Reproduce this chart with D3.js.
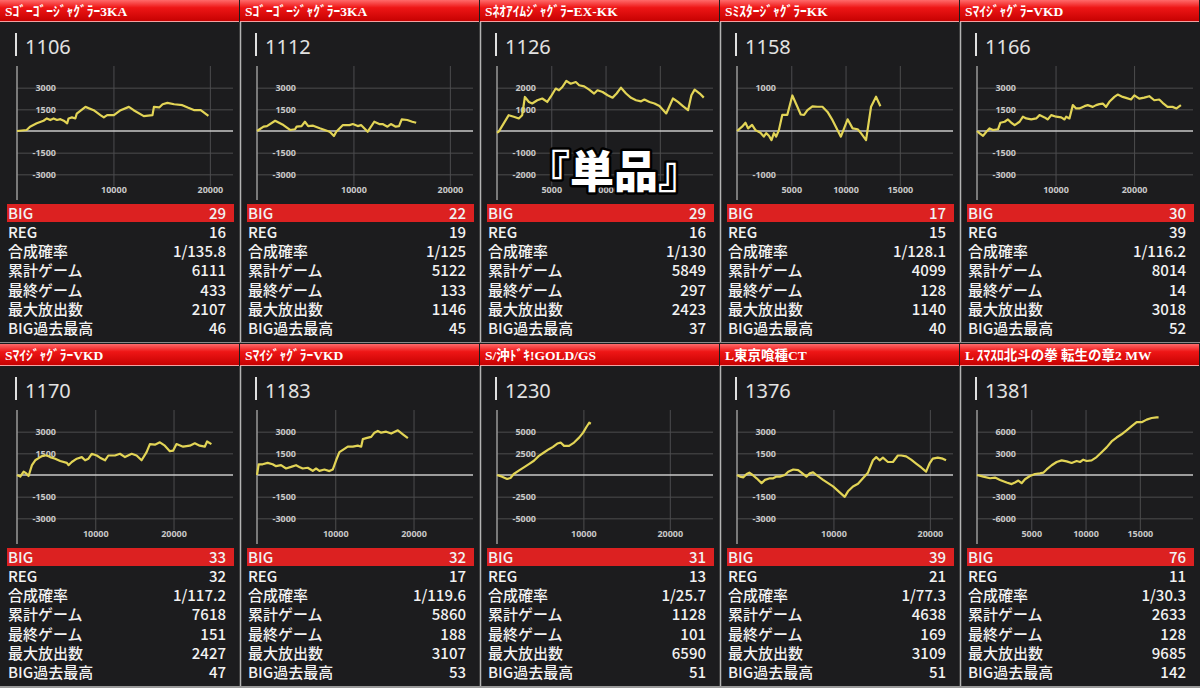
<!DOCTYPE html>
<html>
<head>
<meta charset="utf-8">
<script src="https://cdnjs.cloudflare.com/ajax/libs/d3/7.8.5/d3.min.js"></script>
<style>
html, body { margin: 0; padding: 0; background: #1c1c1e; }
svg { display: block; }
</style>
</head>
<body>
<svg id="chart" width="1200" height="688"></svg>
<script>
// machine numbers and names
var units = [1106, 1112, 1126, 1158, 1166, 1170, 1183, 1230, 1376, 1381];
var titles = [
    "Sｺﾞｰｺﾞｰｼﾞｬｸﾞﾗｰ3KA", "Sｺﾞｰｺﾞｰｼﾞｬｸﾞﾗｰ3KA", "SﾈｵｱｲﾑｼﾞｬｸﾞﾗｰEX-KK",
    "SﾐｽﾀｰｼﾞｬｸﾞﾗｰKK", "SﾏｲｼﾞｬｸﾞﾗｰVKD", "SﾏｲｼﾞｬｸﾞﾗｰVKD", "SﾏｲｼﾞｬｸﾞﾗｰVKD",
    "S/沖ﾄﾞｷ!GOLD/GS", "L東京喰種CT", "L ｽﾏｽﾛ北斗の拳 転生の章2 MW"
];

// stats table
var statLabels = ["BIG", "REG", "合成確率", "累計ゲーム", "最終ゲーム", "最大放出数", "BIG過去最高"];
var bigCounts  = [29, 22, 29, 17, 30, 33, 32, 31, 39, 76];
var regCounts  = [16, 19, 16, 15, 39, 32, 17, 13, 21, 11];
var probs      = ["1/135.8", "1/125", "1/130", "1/128.1", "1/116.2", "1/117.2", "1/119.6", "1/25.7", "1/77.3", "1/30.3"];
var totalGames = [6111, 5122, 5849, 4099, 8014, 7618, 5860, 1128, 4638, 2633];
var lastGames  = [433, 133, 297, 128, 14, 151, 188, 101, 169, 128];
var maxOut     = [2107, 1146, 2423, 1140, 3018, 2427, 3107, 6590, 3109, 9685];
var bigRecord  = [46, 45, 37, 40, 52, 47, 53, 51, 51, 142];

// axes
var yTicks = [
    [3000, 1500, -1500, -3000], [3000, 1500, -1500, -3000], [2000, 1000, -1000, -2000],
    [1000, 500, -500, -1000], [3000, 1500, -1500, -3000], [3000, 1500, -1500, -3000],
    [3000, 1500, -1500, -3000], [5000, 2500, -2500, -5000], [3000, 1500, -1500, -3000],
    [6000, 3000, -3000, -6000]
];
var yLabelTicks = [
    [3000, 1500, -1500, -3000], [3000, 1500, -1500, -3000], [2000, 1000, -1000, -2000],
    [1000, -1000], [3000, 1500, -1500, -3000], [3000, 1500, -1500, -3000],
    [3000, 1500, -1500, -3000], [5000, 2500, -2500, -5000], [3000, 1500, -1500, -3000],
    [6000, 3000, -3000, -6000]
];
var xTicks = [
    [10000, 20000], [10000, 20000], [5000, 10000, 15000], [5000, 10000, 15000], [10000, 20000],
    [10000, 20000], [10000, 20000], [10000, 20000], [10000, 20000], [5000, 10000, 15000]
];
var xMax = [22400, 22400, 19900, 19900, 27500, 27600, 27600, 25000, 22400, 19900];

// slump lines [games, coins]
var line1106 = [[0,0],[1000,70],[1350,300],[2050,530],[2750,710],[3100,870],[3450,760],[3800,870],[4150,760],[4500,820],[4850,710],[5200,530],[5350,870],[5700,940],[6050,870],[6200,1210],[7100,1670],[7950,1440],[8650,1100],[9000,940],[9350,1100],[10050,1100],[10750,1440],[11600,1670],[12100,1440],[13150,1030],[14050,1100],[14200,1670],[14750,1630],[15100,1850],[15600,1950],[16300,1850],[17150,1790],[17700,1630],[18400,1440],[19050,1440],[19850,1050]];
var line1112 = [[0,0],[680,300],[1030,340],[1880,710],[2740,410],[3430,70],[3940,120],[4110,300],[4620,340],[4970,640],[5310,340],[5820,370],[6510,190],[7540,-50],[7980,-350],[8220,-50],[8910,410],[9590,410],[9940,480],[10450,340],[10790,410],[11480,-50],[12160,640],[12680,480],[13020,480],[13530,300],[13880,480],[14390,300],[14730,340],[15010,800],[15590,760],[16100,640],[16510,570]];
var line1126 = [[0,-80],[160,-30],[620,350],[1080,730],[1550,660],[2010,580],[2320,730],[2570,1570],[2940,1340],[3240,1270],[3710,1420],[4170,1500],[4630,1340],[4940,1570],[5410,1960],[5710,1880],[6020,2030],[6390,2310],[6790,2180],[7260,2260],[7570,2110],[8030,2060],[8490,1910],[8950,1730],[9260,1880],[9730,1800],[10190,1650],[10650,1540],[11020,1730],[11420,2000],[11890,1730],[12350,1530],[12810,1420],[13280,1370],[13580,1450],[14050,1340],[14510,1270],[14970,1150],[15590,810],[16210,1500],[16670,1340],[17130,1150],[17600,960],[17910,1650],[18210,1910],[18680,1730],[19050,1540]];
var line1158 = [[0,0],[470,100],[780,190],[1020,60],[1390,140],[1700,20],[2160,-40],[2470,-130],[2690,-50],[2940,-110],[3180,-210],[3400,-50],[3610,-130],[3860,20],[4170,370],[4630,370],[5100,820],[5560,560],[5870,380],[6180,370],[6490,480],[6950,570],[7410,560],[7870,560],[8340,440],[8800,250],[9570,-130],[10190,270],[10650,60],[11120,40],[11420,-50],[11890,-210],[12350,560],[12810,790],[13210,570]];
var line1166 = [[0,0],[340,-160],[770,-340],[1190,-50],[1610,180],[2040,70],[2670,120],[2970,570],[3520,640],[3940,800],[4370,570],[4790,410],[5420,640],[5850,990],[6270,870],[6910,800],[7540,870],[7960,1100],[8600,940],[9020,800],[9450,1100],[10080,990],[10720,940],[11140,800],[11350,990],[11770,870],[12200,1790],[12620,1560],[13040,1560],[13680,1720],[14100,1790],[14740,1670],[15160,1790],[15580,1860],[16010,1900],[16430,1670],[16850,2020],[17490,2360],[17910,2520],[18550,2360],[18970,2290],[19610,2180],[20030,2470],[20660,2240],[21300,2310],[21930,2410],[22570,2130],[23200,2180],[23630,1950],[24260,1670],[24900,1670],[25400,1560],[25960,1790]];
var line1170 = [[0,0],[420,-110],[850,230],[1190,110],[1480,-70],[1910,680],[2330,1020],[2970,1240],[3390,1350],[3820,1350],[4240,1240],[4880,1130],[5520,970],[6370,840],[6580,680],[7000,900],[7640,1130],[8280,1240],[8700,1020],[9130,1130],[9550,1470],[10190,1350],[10610,1200],[11250,1020],[11670,1350],[12520,1350],[13160,1470],[13800,1240],[14650,1470],[15280,1350],[15920,1020],[16560,1580],[16980,2140],[17620,2100],[18260,2260],[18890,2030],[19530,1650],[19960,1690],[20380,2140],[21230,1960],[22080,2030],[22720,2190],[23350,2030],[23990,1960],[24290,2320],[24840,2140]];
var line1183 = [[0,0],[210,740],[720,740],[1360,840],[2000,740],[2430,610],[3070,680],[3710,450],[4350,560],[4990,680],[5410,560],[5840,450],[6480,500],[7120,290],[7550,450],[7970,290],[8610,380],[9250,270],[9680,380],[10110,1020],[10530,1580],[11170,1810],[11600,1960],[12240,1960],[12880,2030],[13310,1960],[13520,2480],[13950,2550],[14590,2640],[15010,2930],[15440,3050],[15870,2930],[16510,3000],[17150,2870],[18000,3090],[18640,2820],[19280,2550]];
var line1230 = [[0,0],[590,-190],[1170,-460],[1560,-340],[1940,120],[2520,500],[3110,880],[3690,1260],[4270,1640],[4850,2210],[5430,2600],[6010,2980],[6480,3250],[6980,3630],[7370,3740],[7760,3360],[8340,3360],[8920,3740],[9500,4310],[9970,4890],[10350,5540],[10670,6030],[10860,5920]];
var line1376 = [[0,0],[310,-110],[660,-160],[1000,70],[1280,160],[1620,0],[2030,-230],[2550,-560],[2900,-340],[3410,-230],[3760,-230],[4100,-110],[4450,-110],[4960,0],[5310,230],[5830,380],[6340,340],[6690,160],[7200,-110],[7550,110],[7890,180],[8240,0],[8930,-340],[9960,-790],[10650,-1200],[11170,-1510],[11510,-1130],[12030,-790],[12550,-610],[13060,-230],[13580,160],[14100,1020],[14440,1240],[14790,1020],[15130,1200],[15650,900],[16170,900],[16680,1350],[17030,1350],[17540,1290],[18060,1060],[18580,790],[19100,520],[19610,230],[19960,790],[20300,1130],[20820,1200],[21340,1130],[21680,1020]];
var line1381 = [[0,0],[580,-230],[1200,-450],[1660,-360],[2120,-680],[2730,-1040],[3190,-1260],[3500,-1040],[3810,-770],[4110,-1130],[4420,-590],[4880,-140],[5340,140],[5800,230],[6110,320],[6420,770],[6880,1350],[7340,1800],[7800,2030],[8260,1890],[8720,1670],[9180,1940],[9490,1800],[9790,2120],[10100,1940],[10560,2030],[11020,2480],[11480,3160],[11940,3830],[12400,4650],[12860,5190],[13320,5640],[13780,6180],[14250,6770],[14710,7310],[15170,7310],[15630,7670],[16090,7890],[16550,7980],[16730,7980]];
var series = [line1106, line1112, line1126, line1158, line1166, line1170, line1183, line1230, line1376, line1381];

var W = 240, rowH = 344;
var svg = d3.select("#chart");

var grad = svg.append("defs").append("linearGradient")
    .attr("id", "hdr").attr("x1", 0).attr("y1", 0).attr("x2", 0).attr("y2", 1);
grad.append("stop").attr("offset", "0%").attr("stop-color", "#ff6a6a");
grad.append("stop").attr("offset", "35%").attr("stop-color", "#ee1616");
grad.append("stop").attr("offset", "100%").attr("stop-color", "#c40000");

svg.append("rect").attr("width", 1200).attr("height", 688).attr("fill", "#1c1c1e");

units.forEach(function(u, i) {
    var col = i % 5, row = Math.floor(i / 5);
    var g = svg.append("g").attr("transform", "translate(" + (col * W) + "," + (row * rowH) + ")");

    // header
    g.append("rect").attr("x", 0).attr("y", 0).attr("width", W - 1).attr("height", 22).attr("fill", "url(#hdr)");
    g.append("rect").attr("x", 0).attr("y", 21).attr("width", W - 1).attr("height", 1).attr("fill", "#f3a0a0");
    g.append("text").attr("x", 5).attr("y", 16)
        .attr("fill", "#fff")
        .attr("font-size", "13.5")
        .attr("font-weight", "bold")
        .attr("font-family", "'Liberation Serif', 'DejaVu Serif', 'Noto Sans CJK JP', serif")
        .text(titles[i]);

    // machine number
    g.append("rect").attr("x", 15).attr("y", 33).attr("width", 2).attr("height", 23).attr("fill", "#e0e0e0");
    g.append("text").attr("x", 25).attr("y", 54)
        .attr("fill", "#e2e2e2")
        .attr("font-size", "20")
        .attr("font-family", "'Noto Sans', sans-serif")
        .text(u);

    // chart
    var x = d3.scaleLinear().domain([0, xMax[i]]).range([17, 233]);
    var yM = d3.max(yTicks[i]) * 1.5;
    var y = d3.scaleLinear().domain([-yM, yM]).range([196, 66]);
    var labeled = yLabelTicks[i];

    var yAxis = d3.axisLeft(y).tickValues(yTicks[i]).tickSize(-216).tickPadding(-39)
        .tickFormat(function(d) { return labeled.indexOf(d) >= 0 ? String(d) : ""; });
    var ya = g.append("g").attr("transform", "translate(17,0)").call(yAxis);

    var xAxis = d3.axisBottom(x).tickValues(xTicks[i]).tickSize(-120).tickPadding(1)
        .tickFormat(function(d) { return String(d); });
    var xa = g.append("g").attr("transform", "translate(0,186)").call(xAxis);

    [ya, xa].forEach(function(a) {
        a.select(".domain").remove();
        a.selectAll("line").attr("stroke", "#4c4c4e").attr("stroke-width", 1);
        a.selectAll("text")
            .attr("fill", "#c8c8c8")
            .attr("font-size", "9")
            .attr("font-weight", "bold")
            .attr("font-family", "'Noto Sans', sans-serif");
    });

    g.append("line").attr("x1", 17).attr("x2", 233).attr("y1", y(0)).attr("y2", y(0))
        .attr("stroke", "#c8c8c8").attr("stroke-width", 1.5);
    g.append("line").attr("x1", 17).attr("x2", 17).attr("y1", 66).attr("y2", 200)
        .attr("stroke", "#9a9a9a").attr("stroke-width", 1.5);

    var line = d3.line()
        .x(function(d) { return x(d[0]); })
        .y(function(d) { return y(d[1]); });
    g.append("path").datum(series[i])
        .attr("d", line)
        .attr("fill", "none")
        .attr("stroke", "#e2d456")
        .attr("stroke-width", 2.2)
        .attr("stroke-linejoin", "round");

    // stats
    var values = [bigCounts[i], regCounts[i], probs[i], totalGames[i], lastGames[i], maxOut[i], bigRecord[i]];
    g.append("rect").attr("x", 7).attr("y", 204).attr("width", 227).attr("height", 18).attr("fill", "#dc2121");
    var rows = g.append("g").selectAll("g").data(statLabels).join("g")
        .attr("transform", function(d, k) { return "translate(0," + (219 + k * 19.15) + ")"; });
    rows.append("text").attr("x", 8)
        .attr("fill", "#f2f2f2")
        .attr("font-size", "15")
        .attr("font-weight", "500")
        .attr("font-family", "'Noto Sans CJK JP', 'Noto Sans', sans-serif")
        .text(function(d) { return d; });
    rows.append("text").attr("x", 226)
        .attr("text-anchor", "end")
        .attr("fill", "#f2f2f2")
        .attr("font-size", "15")
        .attr("font-weight", "500")
        .attr("font-family", "'Noto Sans CJK JP', 'Noto Sans', sans-serif")
        .text(function(d, k) { return values[k]; });
});

// panel separators
[240, 480, 720, 960].forEach(function(sx) {
    svg.append("line").attr("x1", sx + 0.5).attr("x2", sx + 0.5).attr("y1", 22).attr("y2", 342)
        .attr("stroke", "#b4b4b4").attr("stroke-width", 1.5);
    svg.append("line").attr("x1", sx + 0.5).attr("x2", sx + 0.5).attr("y1", rowH + 22).attr("y2", 686)
        .attr("stroke", "#b4b4b4").attr("stroke-width", 1.5);
});
svg.append("line").attr("x1", 0).attr("x2", 1200).attr("y1", 342.5).attr("y2", 342.5)
    .attr("stroke", "#8a8a8a").attr("stroke-width", 1);
svg.append("rect").attr("x", 0).attr("y", 686).attr("width", 1200).attr("height", 2).attr("fill", "#9a9a9a");

// overlay caption
svg.append("text").attr("x", 614).attr("y", 188)
    .attr("text-anchor", "middle")
    .attr("fill", "#fff")
    .attr("stroke", "#000")
    .attr("stroke-width", 5)
    .attr("stroke-linejoin", "round")
    .attr("paint-order", "stroke")
    .attr("font-size", "44")
    .attr("font-weight", "900")
    .attr("font-family", "'Noto Sans CJK JP', sans-serif")
    .text("『単品』");
</script>
</body>
</html>
